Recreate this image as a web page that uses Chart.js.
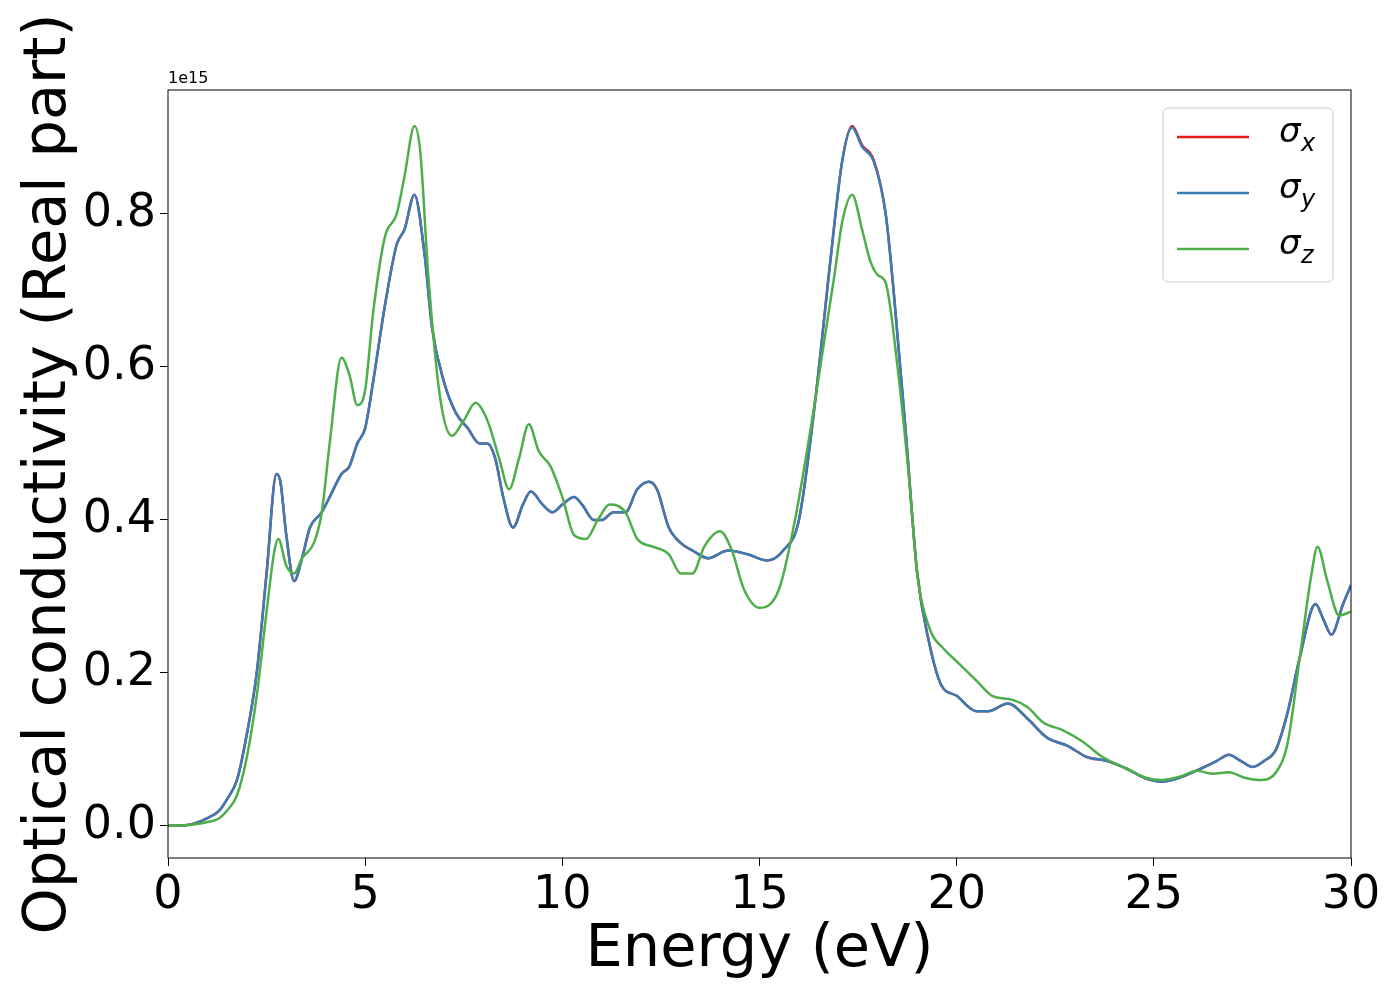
<!DOCTYPE html>
<html><head><meta charset="utf-8">
<script src="https://cdn.jsdelivr.net/npm/chart.js@4"></script>
<style>body{margin:0;background:#fff}#w{width:1400px;height:1000px}</style>
</head><body><div id="w"><canvas id="c"></canvas></div>
<script>
const energyXY=[0,0.5,1.0,1.3,1.5,1.75,2.0,2.25,2.5,2.75,2.85,3.0,3.2,3.4,3.6,3.9,4.1,4.4,4.6,4.8,5.0,5.2,5.5,5.8,6.0,6.25,6.5,6.7,7.0,7.3,7.6,7.9,8.1,8.3,8.5,8.75,9.0,9.2,9.5,9.75,10.0,10.3,10.5,10.8,11.0,11.3,11.6,11.9,12.2,12.4,12.7,13.0,13.3,13.7,14.2,14.7,15.2,15.6,16.0,16.4,16.8,17.1,17.35,17.6,17.9,18.2,18.4,18.7,19.0,19.3,19.6,20.0,20.5,20.8,21.3,21.8,22.3,22.8,23.3,23.8,24.3,24.8,25.2,25.6,26.2,26.6,26.9,27.2,27.5,27.8,28.1,28.4,28.7,29.1,29.3,29.5,29.8,30];
const sigmaX=[0,0.001,0.01,0.02,0.035,0.06,0.12,0.2,0.33,0.46,0.45,0.38,0.32,0.35,0.39,0.41,0.43,0.46,0.47,0.5,0.52,0.58,0.68,0.76,0.78,0.825,0.75,0.65,0.58,0.54,0.52,0.5,0.5,0.48,0.43,0.39,0.42,0.437,0.42,0.41,0.42,0.43,0.42,0.4,0.4,0.41,0.41,0.44,0.45,0.44,0.39,0.37,0.36,0.35,0.36,0.355,0.347,0.36,0.4,0.55,0.74,0.87,0.915,0.89,0.87,0.8,0.7,0.52,0.33,0.24,0.185,0.17,0.15,0.15,0.16,0.14,0.115,0.105,0.09,0.085,0.075,0.062,0.058,0.062,0.075,0.085,0.093,0.085,0.077,0.085,0.1,0.15,0.22,0.29,0.27,0.25,0.29,0.315];
const sigmaY=[0,0.001,0.01,0.02,0.035,0.06,0.12,0.2,0.33,0.46,0.45,0.38,0.32,0.35,0.39,0.41,0.43,0.46,0.47,0.5,0.52,0.58,0.68,0.76,0.78,0.825,0.75,0.65,0.58,0.54,0.52,0.5,0.5,0.48,0.43,0.39,0.42,0.437,0.42,0.41,0.42,0.43,0.42,0.4,0.4,0.41,0.41,0.44,0.45,0.44,0.39,0.37,0.36,0.35,0.36,0.355,0.347,0.36,0.4,0.55,0.74,0.87,0.913,0.888,0.868,0.8,0.7,0.52,0.33,0.24,0.185,0.17,0.15,0.15,0.16,0.14,0.115,0.105,0.09,0.085,0.075,0.062,0.058,0.062,0.075,0.085,0.093,0.085,0.077,0.085,0.1,0.15,0.22,0.29,0.27,0.25,0.29,0.315];
const energyZ=[0,0.5,1.0,1.3,1.5,1.75,2.0,2.25,2.5,2.7,2.8,3.0,3.2,3.4,3.7,3.9,4.1,4.4,4.6,4.8,5.0,5.2,5.5,5.8,6.0,6.25,6.4,6.6,6.9,7.2,7.5,7.8,8.1,8.4,8.65,8.9,9.15,9.4,9.7,10.0,10.3,10.6,10.9,11.2,11.6,11.9,12.3,12.7,13.0,13.3,13.6,14.0,14.3,14.6,15.0,15.5,15.9,16.3,16.6,16.9,17.1,17.35,17.6,17.8,18.0,18.2,18.5,18.8,19.0,19.3,19.7,20.0,20.5,20.9,21.4,21.8,22.2,22.7,23.2,23.7,24.3,24.8,25.2,25.7,26.1,26.5,26.9,27.3,27.7,28.1,28.4,28.7,29.0,29.15,29.4,29.7,30];
const sigmaZ=[0,0.001,0.005,0.01,0.02,0.04,0.09,0.17,0.28,0.36,0.375,0.34,0.33,0.35,0.37,0.41,0.5,0.612,0.59,0.55,0.57,0.67,0.77,0.8,0.85,0.915,0.88,0.72,0.56,0.51,0.53,0.553,0.53,0.48,0.44,0.48,0.525,0.49,0.47,0.43,0.38,0.375,0.4,0.42,0.41,0.375,0.365,0.355,0.33,0.33,0.365,0.385,0.36,0.31,0.285,0.31,0.4,0.52,0.62,0.72,0.79,0.825,0.78,0.74,0.72,0.71,0.6,0.45,0.33,0.26,0.23,0.215,0.19,0.17,0.165,0.155,0.135,0.125,0.11,0.09,0.075,0.063,0.06,0.065,0.072,0.068,0.07,0.063,0.06,0.07,0.11,0.22,0.33,0.365,0.32,0.275,0.28];
const xTicks=[0,5,10,15,20,25,30];
const yTicks=[0,0.2,0.4,0.6,0.8];
const colors=['#e41a1c','#377eb8','#4daf4a'];
const pts=(xs,ys)=>xs.map((x,i)=>({x,y:ys[i]}));
const deco={id:'deco',afterDraw(ch){const a=ch.chartArea,c=ch.ctx;c.save();
c.strokeStyle='#000';c.lineWidth=1;c.strokeRect(a.left,a.top,a.right-a.left,a.bottom-a.top);
c.fillStyle='#000';c.font='16px "DejaVu Sans"';c.textBaseline='bottom';c.fillText('1e15',a.left,a.top-3);
const lx=1163,ly=108;c.fillStyle='#fff';c.strokeStyle='#ccc';c.beginPath();c.roundRect(lx,ly,170,174,5);c.fill();c.stroke();
const subs=['x','y','z'];
subs.forEach((s,i)=>{const y=ly+29+i*56;c.strokeStyle=colors[i];c.lineWidth=2.5;c.beginPath();c.moveTo(lx+14,y);c.lineTo(lx+86,y);c.stroke();
c.fillStyle='#000';c.textBaseline='middle';c.font='italic 34px "DejaVu Sans"';c.fillText('σ',lx+116,y-4);c.font='italic 24px "DejaVu Sans"';c.fillText(s,lx+138,y+8);});
c.restore();}};
new Chart(document.getElementById('c'),{type:'line',
data:{datasets:[
{label:'σx',data:pts(energyXY,sigmaX),borderColor:colors[0],order:3},
{label:'σy',data:pts(energyXY,sigmaY),borderColor:colors[1],order:2},
{label:'σz',data:pts(energyZ,sigmaZ),borderColor:colors[2],order:1}]},
options:{animation:false,responsive:true,maintainAspectRatio:false,
elements:{point:{radius:0},line:{borderWidth:2.5,tension:0.4,cubicInterpolationMode:'monotone'}},
layout:{padding:{top:90,right:49,left:14,bottom:14}},
plugins:{legend:{display:false},tooltip:{enabled:false}},
scales:{
x:{type:'linear',min:0,max:30,afterBuildTicks:s=>{s.ticks=xTicks.map(v=>({value:v}));},
afterFit:s=>{s.height=128;},
grid:{display:true,drawOnChartArea:false,tickLength:8,color:'#000'},border:{display:false},
ticks:{color:'#000',font:{size:46,family:'DejaVu Sans'},padding:2,maxRotation:0},
title:{display:true,text:'Energy (eV)',color:'#000',font:{size:59,family:'DejaVu Sans'},padding:0}},
y:{min:-0.042,max:0.962,afterBuildTicks:s=>{s.ticks=yTicks.map(v=>({value:v}));},
afterFit:s=>{s.width=154;},
grid:{display:true,drawOnChartArea:false,tickLength:8,color:'#000'},border:{display:false},
ticks:{color:'#000',font:{size:46,family:'DejaVu Sans'},padding:4,callback:v=>v.toFixed(1)},
title:{display:true,text:'Optical conductivity (Real part)',color:'#000',font:{size:59,family:'DejaVu Sans'},padding:0}}}},
plugins:[deco]});
</script></body></html>
